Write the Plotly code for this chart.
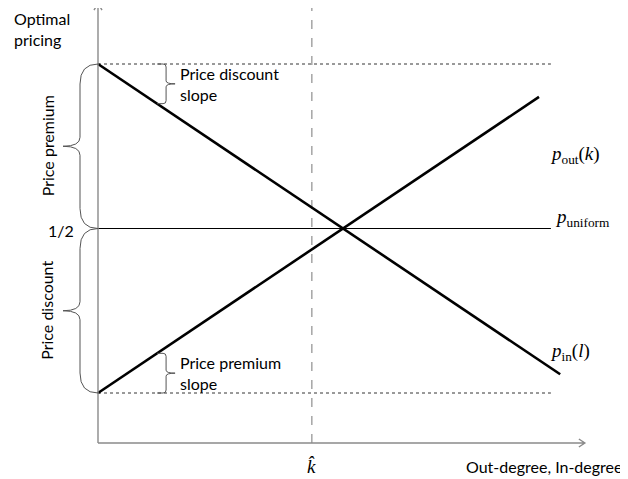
import plotly.graph_objects as go

# values (x: degree, y: optimal price)
k_vals = [0.0, 1.0]          # out-degree k
p_out_vals = [0.0, 0.9]      # p_out(k)
l_vals = [0.0, 1.048]        # in-degree l
p_in_vals = [1.0, 0.057]     # p_in(l)
uniform_x = [0.0, 1.027]
p_uniform = 0.5
price_low, price_high = 0.0, 1.0
k_hat = 0.485
x_axis_end = 1.104
y_axis_bottom, y_axis_top = -0.152, 1.185
slope_brace_x = 0.134

# pixel -> data scale of the layout
px_x = 1 / 441
px_y = 1 / 329
# the page body adds an 8px margin around the plot div
body = 8

font_txt = dict(family="Lato, 'Open Sans', sans-serif", size=16, color="black")
font_math = dict(family="'Liberation Serif', 'DejaVu Serif', serif", size=19, color="black")

fig = go.Figure()

# guide lines
fig.add_trace(go.Scatter(x=uniform_x, y=[price_high, price_high], mode="lines",
                         line=dict(color="black", width=0.8, dash="dot")))
fig.add_trace(go.Scatter(x=uniform_x, y=[price_low, price_low], mode="lines",
                         line=dict(color="black", width=0.8, dash="dot")))
fig.add_trace(go.Scatter(x=uniform_x, y=[p_uniform, p_uniform], mode="lines",
                         line=dict(color="black", width=1.2)))
fig.add_trace(go.Scatter(x=[k_hat, k_hat], y=[y_axis_bottom, y_axis_top + 0.02], mode="lines",
                         line=dict(color="#777777", width=1, dash="dash")))

# price curves
fig.add_trace(go.Scatter(x=k_vals, y=p_out_vals, mode="lines", line=dict(color="black", width=2.6)))
fig.add_trace(go.Scatter(x=l_vals, y=p_in_vals, mode="lines", line=dict(color="black", width=2.6)))

shapes = []
# axes with open arrow heads
ax_col = "#8a8a8a"
dx, dy = 6 * px_x, 4 * px_y
shapes.append(dict(type="path", xref="x", yref="y", line=dict(color=ax_col, width=1.4),
                   path=f"M 0,{y_axis_bottom} L {x_axis_end},{y_axis_bottom} "
                        f"M {x_axis_end - dx},{y_axis_bottom + dy} L {x_axis_end},{y_axis_bottom} "
                        f"L {x_axis_end - dx},{y_axis_bottom - dy}"))
ex, ey = 4 * px_x, 7 * px_y
shapes.append(dict(type="path", xref="x", yref="y", line=dict(color=ax_col, width=1.4),
                   path=f"M 0,{y_axis_bottom} L 0,{y_axis_top} "
                        f"M {-ex},{y_axis_top - ey} L 0,{y_axis_top} L {ex},{y_axis_top - ey}"))


def left_brace(y_top, y_bot):
    xv, xt = -18 * px_x, -35 * px_x
    r, rt = 20 * px_y, 9 * px_y
    ym = (y_top + y_bot) / 2
    return (f"M 0,{y_top} Q {xv},{y_top} {xv},{y_top - r} L {xv},{ym + rt} "
            f"Q {xv},{ym} {xt},{ym} Q {xv},{ym} {xv},{ym - rt} "
            f"L {xv},{y_bot + r} Q {xv},{y_bot} 0,{y_bot}")


def right_brace(x0, y_top, y_bot):
    xv, xt = x0 + 9 * px_x, x0 + 18 * px_x
    r = 3 * px_y
    ym = (y_top + y_bot) / 2
    return (f"M {x0},{y_top} L {xv - 3 * px_x},{y_top} Q {xv},{y_top} {xv},{y_top - r} "
            f"L {xv},{ym + r} Q {xv},{ym} {xt},{ym} Q {xv},{ym} {xv},{ym - r} "
            f"L {xv},{y_bot + r} Q {xv},{y_bot} {xv - 3 * px_x},{y_bot} L {x0},{y_bot}")


br_col = "#555555"
shapes.append(dict(type="path", xref="x", yref="y", line=dict(color=br_col, width=1),
                   path=left_brace(price_high, p_uniform)))
shapes.append(dict(type="path", xref="x", yref="y", line=dict(color=br_col, width=1),
                   path=left_brace(p_uniform, price_low)))

slope_in = p_in_vals[0] + (p_in_vals[1] - p_in_vals[0]) / (l_vals[1] - l_vals[0]) * slope_brace_x
slope_out = p_out_vals[0] + (p_out_vals[1] - p_out_vals[0]) / (k_vals[1] - k_vals[0]) * slope_brace_x
shapes.append(dict(type="path", xref="x", yref="y", line=dict(color=br_col, width=1),
                   path=right_brace(slope_brace_x, price_high, slope_in)))
shapes.append(dict(type="path", xref="x", yref="y", line=dict(color=br_col, width=1),
                   path=right_brace(slope_brace_x, slope_out, price_low)))

annotations = [
    dict(x=-86 * px_x, y=1.106, text="Optimal<br>pricing", xanchor="left", align="left", font=font_txt),
    dict(x=-51 * px_x, y=(price_high + p_uniform) / 2, text="Price premium", textangle=-90, font=font_txt),
    dict(x=-51 * px_x, y=(price_low + p_uniform) / 2, text="Price discount", textangle=-90, font=font_txt),
    dict(x=-22 * px_x, y=p_uniform - 0.005, text="1/2", xanchor="right", font=font_txt),
    dict(x=slope_brace_x + 21 * px_x, y=(price_high + slope_in) / 2, text="Price discount<br>slope",
         xanchor="left", align="left", font=font_txt),
    dict(x=slope_brace_x + 21 * px_x, y=(price_low + slope_out) / 2, text="Price premium<br>slope",
         xanchor="left", align="left", font=font_txt),
    dict(x=1.02, y=0.723, text="<i>p</i><sub>out</sub>(<i>k</i>)", xanchor="left", font=font_math),
    dict(x=1.032, y=0.532, text="<i>p</i><sub>uniform</sub>", xanchor="left", font=font_math),
    dict(x=1.02, y=0.125, text="<i>p</i><sub>in</sub>(<i>l</i>)", xanchor="left", font=font_math),
    dict(x=k_hat, y=-0.222, text="<i>k\u0302</i>", font=font_math),
    dict(x=1.195, y=-0.222, text="Out-degree, In-degree", xanchor="right", font=font_txt),
]
for a in annotations:
    a.update(xref="x", yref="y", showarrow=False)

fig.update_layout(
    width=628 - body, height=479 - body,
    margin=dict(l=0, r=0, t=0, b=0),
    paper_bgcolor="white", plot_bgcolor="white",
    showlegend=False,
    xaxis=dict(range=[(body - 98) * px_x, 530 * px_x], visible=False),
    yaxis=dict(range=[-86 * px_y, (393 - body) * px_y], visible=False),
    shapes=shapes,
    annotations=annotations,
)

fig.write_html("out.html")
